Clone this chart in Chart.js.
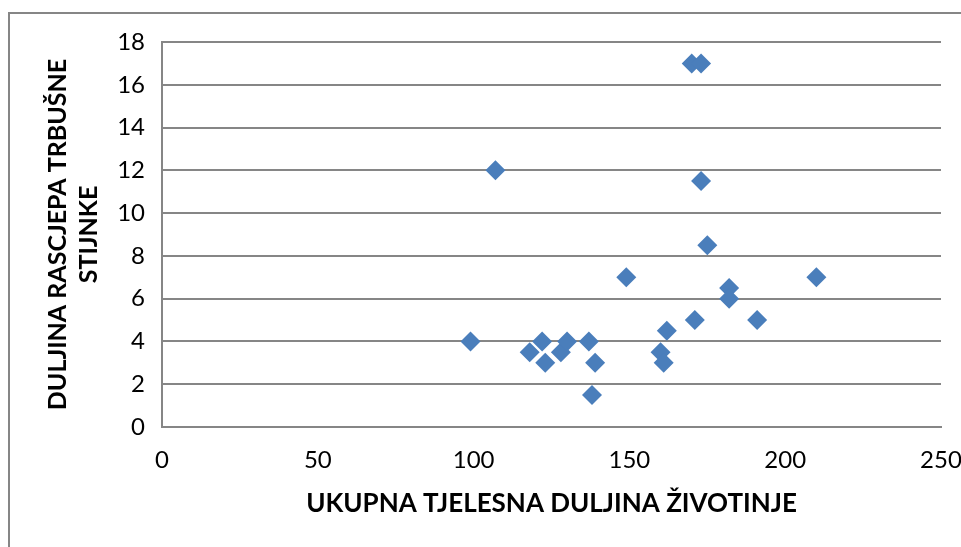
<!DOCTYPE html>
<html>
<head>
<meta charset="utf-8">
<script src="https://cdn.jsdelivr.net/npm/chart.js@4"></script>
<style>
  html, body { margin: 0; padding: 0; background: #fff; }
  #wrap { position: relative; width: 961px; height: 547px; }
  canvas { display: block; }
</style>
</head>
<body>
<div id="wrap"><canvas id="c" width="961" height="547"></canvas></div>
<script>
// Data
const bodyLength = [99, 107, 118, 122, 123, 128, 130, 137, 139, 138, 149, 160, 161, 162, 170, 173, 173, 175, 171, 182, 182, 191, 210];
const splitLength = [4, 12, 3.5, 4, 3, 3.5, 4, 4, 3, 1.5, 7, 3.5, 3, 4.5, 17, 17, 11.5, 8.5, 5, 6.5, 6, 5, 7];
const xTicks = [0, 50, 100, 150, 200, 250];
const yTicks = [0, 2, 4, 6, 8, 10, 12, 14, 16, 18];
const xTitle = 'UKUPNA TJELESNA DULJINA ŽIVOTINJE';
const yTitle = ['DULJINA RASCJEPA TRBUŠNE', 'STIJNKE'];

const points = bodyLength.map((x, i) => ({ x: x, y: splitLength[i] }));

const frame = {
  id: 'frame',
  beforeDraw(chart) {
    const ctx = chart.ctx;
    ctx.save();
    ctx.strokeStyle = '#868686';
    ctx.lineWidth = 2;
    ctx.beginPath();
    ctx.moveTo(9, 547);
    ctx.lineTo(9, 13);
    ctx.lineTo(961, 13);
    ctx.stroke();
    ctx.restore();
  }
};

const FONT = 'Lato, "DejaVu Sans", sans-serif';

new Chart(document.getElementById('c'), {
  type: 'scatter',
  data: {
    datasets: [{
      data: points,
      pointStyle: 'rectRot',
      pointRadius: 10,
      pointHoverRadius: 10,
      backgroundColor: '#4A7EBB',
      borderColor: '#4A7EBB',
      borderWidth: 0
    }]
  },
  options: {
    responsive: false,
    animation: false,
    events: [],
    layout: { padding: { left: 0, top: 42, right: 20, bottom: 0 } },
    plugins: { legend: { display: false }, tooltip: { enabled: false } },
    scales: {
      x: {
        type: 'linear',
        min: xTicks[0],
        max: xTicks[xTicks.length - 1],
        afterBuildTicks(s) { s.ticks = xTicks.map(v => ({ value: v })); },
        afterFit(s) { s.height = 120; s.paddingLeft = 0; s.paddingRight = 0; },
        grid: { display: false, drawTicks: false },
        border: { display: true, color: '#868686', width: 2 },
        ticks: { color: '#000', font: { family: FONT, size: 24 }, padding: 19 },
        title: {
          display: true, text: xTitle, color: '#000',
          font: { family: FONT, size: 26, weight: 'bold', lineHeight: 1.2 },
          padding: { top: 0, bottom: 28 }
        }
      },
      y: {
        type: 'linear',
        min: yTicks[0],
        max: yTicks[yTicks.length - 1],
        afterBuildTicks(s) { s.ticks = yTicks.map(v => ({ value: v })); },
        afterFit(s) { s.width = 162; s.paddingTop = 0; s.paddingBottom = 0; },
        grid: { color: '#868686', lineWidth: 2, drawTicks: false },
        border: { display: true, color: '#868686', width: 2 },
        ticks: { color: '#000', font: { family: FONT, size: 24 }, padding: 17 },
        title: {
          display: true, text: yTitle, color: '#000',
          font: { family: FONT, size: 25, weight: 'bold', lineHeight: 1.25 },
          padding: { top: 42, bottom: 0 }
        }
      }
    }
  },
  plugins: [frame]
});
</script>
</body>
</html>
